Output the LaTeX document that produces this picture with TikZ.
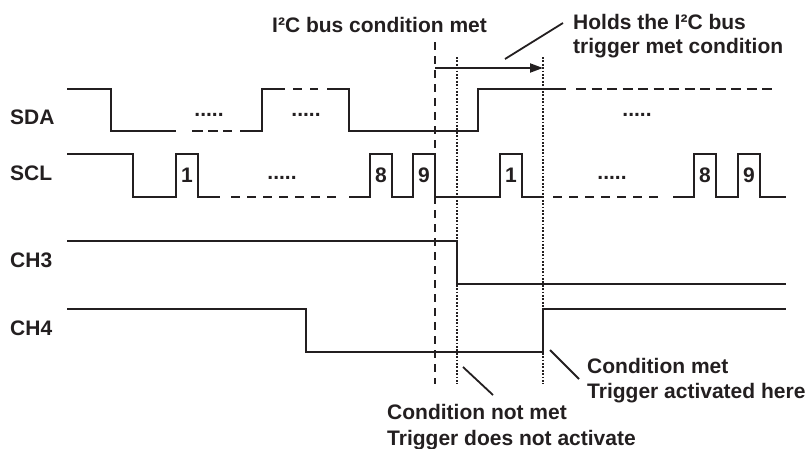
\documentclass[tikz,border=0pt]{standalone}
\usepackage{fontspec}
\setmainfont{Liberation Sans}
\usetikzlibrary{arrows.meta}
\definecolor{ink}{HTML}{231F20}
\begin{document}
\begin{tikzpicture}[x=1pt,y=-1pt,
  sig/.style={draw=ink,line width=2.2pt,line join=miter},
  sigdash/.style={draw=ink,line width=2.2pt,dash pattern=on 10pt off 5.5pt},
  sclldash/.style={draw=ink,line width=2.2pt,dash pattern=on 9pt off 7pt},
  vdash/.style={draw=ink,line width=2.2pt,dash pattern=on 8pt off 6pt},
  vdot/.style={draw=ink,line width=1.9pt,dash pattern=on 1.8pt off 1.6pt},
  leader/.style={draw=ink,line width=1.8pt},
  txt/.style={inner sep=0pt,anchor=base west,text=ink,font=\fontsize{21}{24}\selectfont\bfseries},
  num/.style={inner sep=0pt,anchor=base,text=ink,font=\fontsize{21}{24}\selectfont\bfseries},
  dots/.style={inner sep=0pt,anchor=base,text=ink,font=\fontsize{21}{24}\selectfont\bfseries}]
\useasboundingbox (0,0) rectangle (812,448);
% labels
\node[txt] (lsda) at (10,124) {SDA};
\node[txt] (lscl) at (10,180) {SCL};
\node[txt] (lch3) at (10,267) {CH3};
\node[txt] (lch4) at (10,335) {CH4};
% SDA
\draw[sig] (67,89) -- (111,89) -- (111,131) -- (176,131);
\draw[sig] (192,131) -- (203,131) (208,131) -- (218,131) (223,131) -- (232,131);
\draw[sig] (240,131) -- (262,131) -- (262,89) -- (285,89);
\draw[sig] (293,89) -- (302,89) (310,89) -- (318,89);
\draw[sig] (327,89) -- (349,89) -- (349,131) -- (478,131) -- (478,89) -- (566,89);
\draw[sigdash] (576,89) -- (777,89);
\node[dots] (d1) at (209,116) {.....};
\node[dots] (d2) at (306,116) {.....};
\node[dots] (d3) at (637,116) {.....};
% SCL
\draw[sig] (67,154) -- (133,154) -- (133,197) -- (176,197) -- (176,154) -- (198,154) -- (198,197) -- (220,197);
\draw[sclldash] (231,197) -- (336,197);
\draw[sig] (349,197) -- (370,197) -- (370,154) -- (392,154) -- (392,197) -- (413,197) -- (413,154) -- (435,154) -- (435,197) -- (500,197) -- (500,154) -- (522,154) -- (522,197) -- (543,197);
\draw[sclldash] (553,197) -- (658,197);
\draw[sig] (673,197) -- (694,197) -- (694,154) -- (716,154) -- (716,197) -- (738,197) -- (738,154) -- (760,154) -- (760,197) -- (786,197);
\node[dots] (d4) at (282,179) {.....};
\node[dots] (d5) at (612,179) {.....};
\node[num] (n1a) at (187,182) {1};
\node[num] (n8a) at (381,182) {8};
\node[num] (n9a) at (424,182) {9};
\node[num] (n1b) at (511,182) {1};
\node[num] (n8b) at (705,182) {8};
\node[num] (n9b) at (749,182) {9};
% CH3, CH4
\draw[sig] (67,241) -- (457,241) -- (457,284) -- (786,284);
\draw[sig] (67,309) -- (306,309) -- (306,352) -- (543,352) -- (543,309) -- (786,309);
% vertical markers
\coordinate (vdt) at (435,42);
\coordinate (vdb) at (435,384);
\coordinate (v1t) at (457,57);
\coordinate (v1b) at (457,384);
\coordinate (v2t) at (543,57);
\coordinate (v2b) at (543,384);
\draw[vdash] (vdt) -- (vdb);
\draw[vdot] (v1t) -- (v1b);
\draw[vdot] (v2t) -- (v2b);
% hold arrow
\coordinate (ha) at (435,68);
\coordinate (hb) at (543,68);
\draw[draw=ink,line width=2pt,-{Triangle[length=13pt,width=9pt]}] (ha) -- (hb);
% top texts
\node[txt] (tcond) at (272,32) {I²C bus condition met};
\node[txt] (thold1) at (573,29) {Holds the I²C bus};
\node[txt] (thold2) at (573,53) {trigger met condition};
\coordinate (l1a) at (505,59);
\coordinate (l1b) at (563,23);
\draw[leader] (l1a) -- (l1b);
% bottom texts
\node[txt] (tmet1) at (587,373) {Condition met};
\node[txt] (tmet2) at (587,398) {Trigger activated here};
\node[txt] (tnot1) at (387,419) {Condition not met};
\node[txt] (tnot2) at (387,445) {Trigger does not activate};
\coordinate (l2a) at (550,350);
\coordinate (l2b) at (579,379);
\draw[leader] (l2a) -- (l2b);
\coordinate (l3a) at (463,367);
\coordinate (l3b) at (493,395);
\draw[leader] (l3a) -- (l3b);
\end{tikzpicture}
\end{document}
